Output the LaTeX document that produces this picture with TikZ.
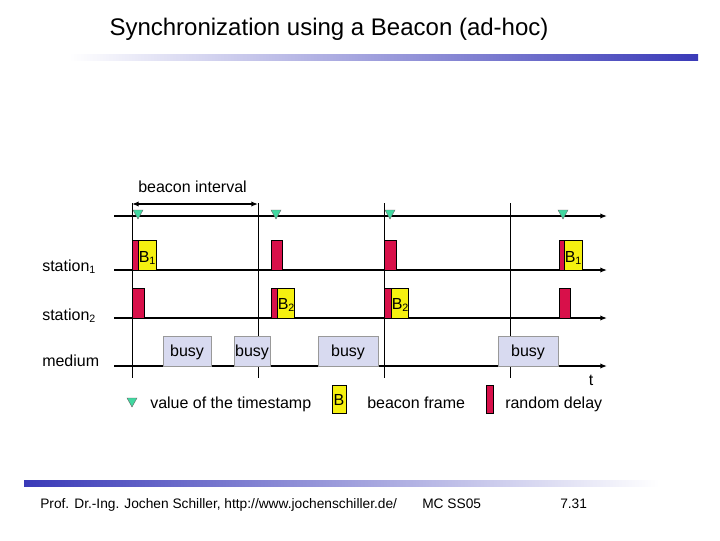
\documentclass[tikz,border=0pt]{standalone}
\usepackage{fontspec}
\setmainfont{Liberation Sans}
\usetikzlibrary{arrows.meta}
\definecolor{bblue}{HTML}{3A3AB8}
\definecolor{dred}{HTML}{D8104A}
\definecolor{byel}{HTML}{F5F010}
\definecolor{busyc}{HTML}{D8DAF0}
\definecolor{tgreen}{HTML}{40D8A0}
\tikzset{
  ax/.style={line width=1pt,-{Latex[length=5pt,width=4pt]}},
  vl/.style={line width=0.5pt},
  rd/.style={draw=black,line width=0.4pt,fill=dred,inner sep=0pt},
  yb/.style={draw=black,line width=0.4pt,fill=byel,inner sep=0pt},
  bz/.style={draw=black!40,line width=0.3pt,fill=busyc,inner sep=0pt},
  tri/.style={draw=black!60,line width=0.3pt,fill=tgreen},
  lbl/.style={font=\fontsize{12}{14}\selectfont,inner sep=0pt},
  ftr/.style={font=\fontsize{10.3}{12}\selectfont,inner sep=0pt,anchor=base west},
}
\begin{document}
\begin{tikzpicture}[x=0.75pt,y=-0.75pt]
\useasboundingbox (0,0) rectangle (720,540);
\fill[white] (0,0) rectangle (720,540);
% title
\node[font=\fontsize{18}{21}\selectfont,inner sep=0pt,anchor=base] (title) at (329,35) {Synchronization using a Beacon (ad-hoc)};
\shade[left color=white,right color=bblue] (69,54) rectangle (698,60);
\shade[left color=bblue,right color=white] (24,480) rectangle (659,486);
% vertical lines
\foreach \x/\n in {132/a,258/b,384/c,510/d}{
  \coordinate (t\n) at (\x,203); \coordinate (b\n) at (\x,378);
  \draw[vl] (t\n) -- (b\n);}
% axes
\foreach \y/\n in {216/0,270/1,318/2,366/3}{
  \coordinate (s\n) at (114,\y); \coordinate (e\n) at (607,\y);
  \draw[ax] (s\n) -- (e\n);}
% beacon interval
\node[lbl,anchor=base west] (bi) at (138,192) {beacon interval};
\coordinate (bia) at (132,204); \coordinate (bib) at (258,204);
\draw[line width=1pt,{Latex[length=5pt,width=4pt]}-{Latex[length=5pt,width=4pt]}] (bia) -- (bib);
% triangles
\foreach \x in {138,276,390,563}{
  \draw[tri] (\x-5,210) -- (\x+5,210) -- (\x,219) -- cycle;}
% station 1
\draw[rd] (132,240) rectangle (138,270);
\draw[yb] (138,240) rectangle (156,270);
\node[lbl,anchor=base west] (b1a) at (138.5,262) {B\textsubscript{1}};
\draw[rd] (271,240) rectangle (282,270);
\draw[rd] (384,240) rectangle (396,270);
\draw[rd] (559,240) rectangle (564,270);
\draw[yb] (564,240) rectangle (582,270);
\node[lbl,anchor=base west] (b1b) at (564.5,262) {B\textsubscript{1}};
% station 2
\draw[rd] (132,288) rectangle (144,318);
\draw[rd] (271,288) rectangle (277,318);
\draw[yb] (277,288) rectangle (294,318);
\node[lbl,anchor=base west] (b2a) at (277.5,309) {B\textsubscript{2}};
\draw[rd] (384,288) rectangle (391,318);
\draw[yb] (391,288) rectangle (408,318);
\node[lbl,anchor=base west] (b2b) at (391.5,309) {B\textsubscript{2}};
\draw[rd] (559,288) rectangle (570,318);
% busy
\foreach \a/\b in {163/211,234/270,318/378,498/558}{
  \draw[bz] (\a,336) rectangle (\b,366);
  \node[lbl,anchor=base] at ({(\a+\b)/2},356) {busy};}
% labels
\node[lbl,anchor=base west] (st1) at (42,271) {station\textsubscript{1}};
\node[lbl,anchor=base west] (st2) at (42,320) {station\textsubscript{2}};
\node[lbl,anchor=base west] (med) at (42,366) {medium};
\node[lbl,anchor=base] (tt) at (591,385) {t};
% legend
\draw[tri] (127,398) -- (137,398) -- (132,407) -- cycle;
\node[lbl,anchor=base west] (l1) at (150,408) {value of the timestamp};
\draw[yb] (332,385) rectangle (346,413);
\node[lbl,anchor=base] (lb) at (339,405) {B};
\node[lbl,anchor=base west] (l2) at (367,408) {beacon frame};
\draw[rd] (486,385) rectangle (493,413);
\node[lbl,anchor=base west] (l3) at (505,408) {random delay};
% footer
\node[ftr] (f1) at (40,508) {Prof. Dr.-Ing. Jochen Schiller, http://www.jochenschiller.de/};
\node[ftr] (f2) at (422,508) {MC SS05};
\node[ftr] (f3) at (560,508) {7.31};
\end{tikzpicture}
\end{document}
